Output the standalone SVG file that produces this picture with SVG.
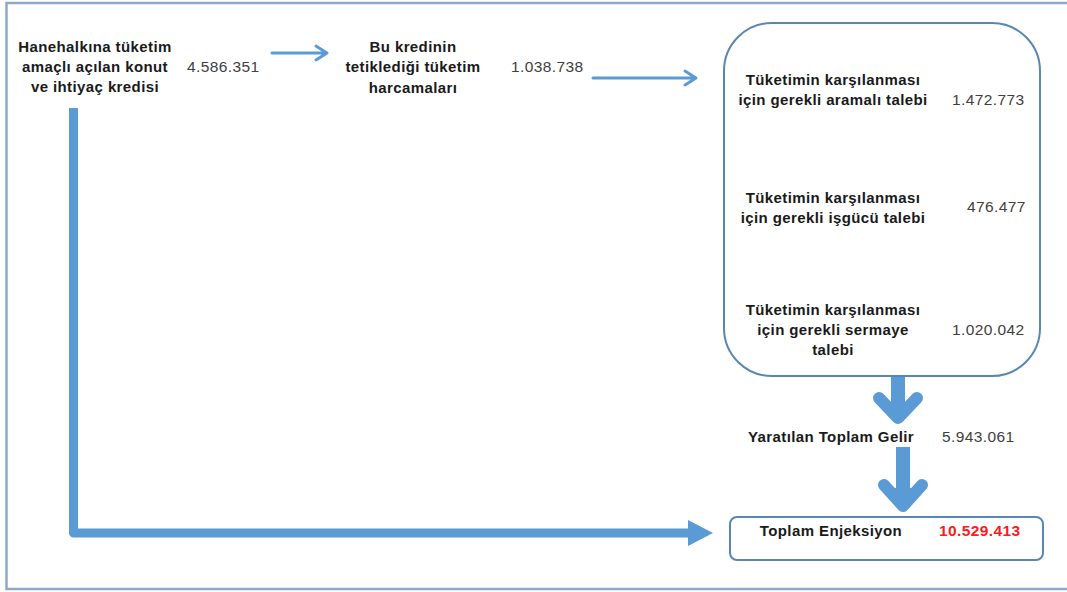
<svg xmlns="http://www.w3.org/2000/svg" width="1067" height="592" viewBox="0 0 1067 592">
<style>
.lbl{font-family:"Liberation Sans",Arial,sans-serif;font-size:15px;letter-spacing:0.4px;font-weight:bold;fill:#1a1a1a;text-anchor:middle}
.num{font-family:"Liberation Sans",Arial,sans-serif;font-size:15.5px;letter-spacing:0.4px;fill:#404040}
.red{font-family:"Liberation Sans",Arial,sans-serif;font-size:15.5px;letter-spacing:0.4px;font-weight:bold;fill:#ff1a1a}
.box{fill:none;stroke:#5a86b3;stroke-width:2}
.thin{fill:none;stroke:#5b9bd5;stroke-width:3;stroke-linecap:round;stroke-linejoin:round}
.thick{fill:none;stroke:#5b9bd5;stroke-linejoin:round}
</style>
<rect width="1067" height="592" fill="#ffffff"/>
<rect x="6.5" y="3" width="1080" height="586" fill="none" stroke="#8eaacb" stroke-width="2.5"/>
<g id="connectors">
  <path class="thin" d="M272 53 H326 M316 46 L327 53 L316 60"/>
  <path class="thin" d="M593 78 H695 M685 71 L696 78 L685 85"/>
  <path class="thick" stroke-width="9" d="M73.5 108 V533 H690"/>
  <polygon points="688,520 713,533 688,546" fill="#5b9bd5"/>
  <path class="thick" stroke-width="14" d="M898 376 V412"/>
  <path class="thick" stroke-width="12" stroke-linecap="round" d="M879 398 L898 418 L917 398"/>
  <polygon points="885,402 898,421 911,402" fill="#5b9bd5"/>
  <path class="thick" stroke-width="14" d="M903 447 V500"/>
  <path class="thick" stroke-width="12" stroke-linecap="round" d="M884 485 L903 506 L922 485"/>
  <polygon points="890,488 903,512 916,488" fill="#5b9bd5"/>
</g>
<g id="kredi">
  <text class="lbl" x="95" y="52">Hanehalkına tüketim</text>
  <text class="lbl" x="95" y="72">amaçlı açılan konut</text>
  <text class="lbl" x="95" y="92">ve ihtiyaç kredisi</text>
  <text class="num" x="187" y="72">4.586.351</text>
</g>
<g id="harcama">
  <text class="lbl" x="413" y="52">Bu kredinin</text>
  <text class="lbl" x="413" y="72">tetiklediği tüketim</text>
  <text class="lbl" x="413" y="93">harcamaları</text>
  <text class="num" x="511" y="72">1.038.738</text>
</g>
<g id="talep">
  <rect class="box" x="724" y="23" width="316" height="353" rx="48" ry="48"/>
  <text class="lbl" x="833" y="85">Tüketimin karşılanması</text>
  <text class="lbl" x="833" y="105">için gerekli aramalı talebi</text>
  <text class="num" x="952" y="105">1.472.773</text>
  <text class="lbl" x="833" y="203">Tüketimin karşılanması</text>
  <text class="lbl" x="833" y="223">için gerekli işgücü talebi</text>
  <text class="num" x="967" y="212">476.477</text>
  <text class="lbl" x="833" y="315">Tüketimin karşılanması</text>
  <text class="lbl" x="833" y="335">için gerekli sermaye</text>
  <text class="lbl" x="833" y="355">talebi</text>
  <text class="num" x="952" y="335">1.020.042</text>
</g>
<g id="gelir">
  <text class="lbl" x="831" y="442">Yaratılan Toplam Gelir</text>
  <text class="num" x="942" y="442">5.943.061</text>
</g>
<g id="enjeksiyon">
  <rect class="box" x="730" y="517" width="313" height="43" rx="7" ry="7"/>
  <text class="lbl" x="831" y="536">Toplam Enjeksiyon</text>
  <text class="red" x="939" y="536">10.529.413</text>
</g>
</svg>
